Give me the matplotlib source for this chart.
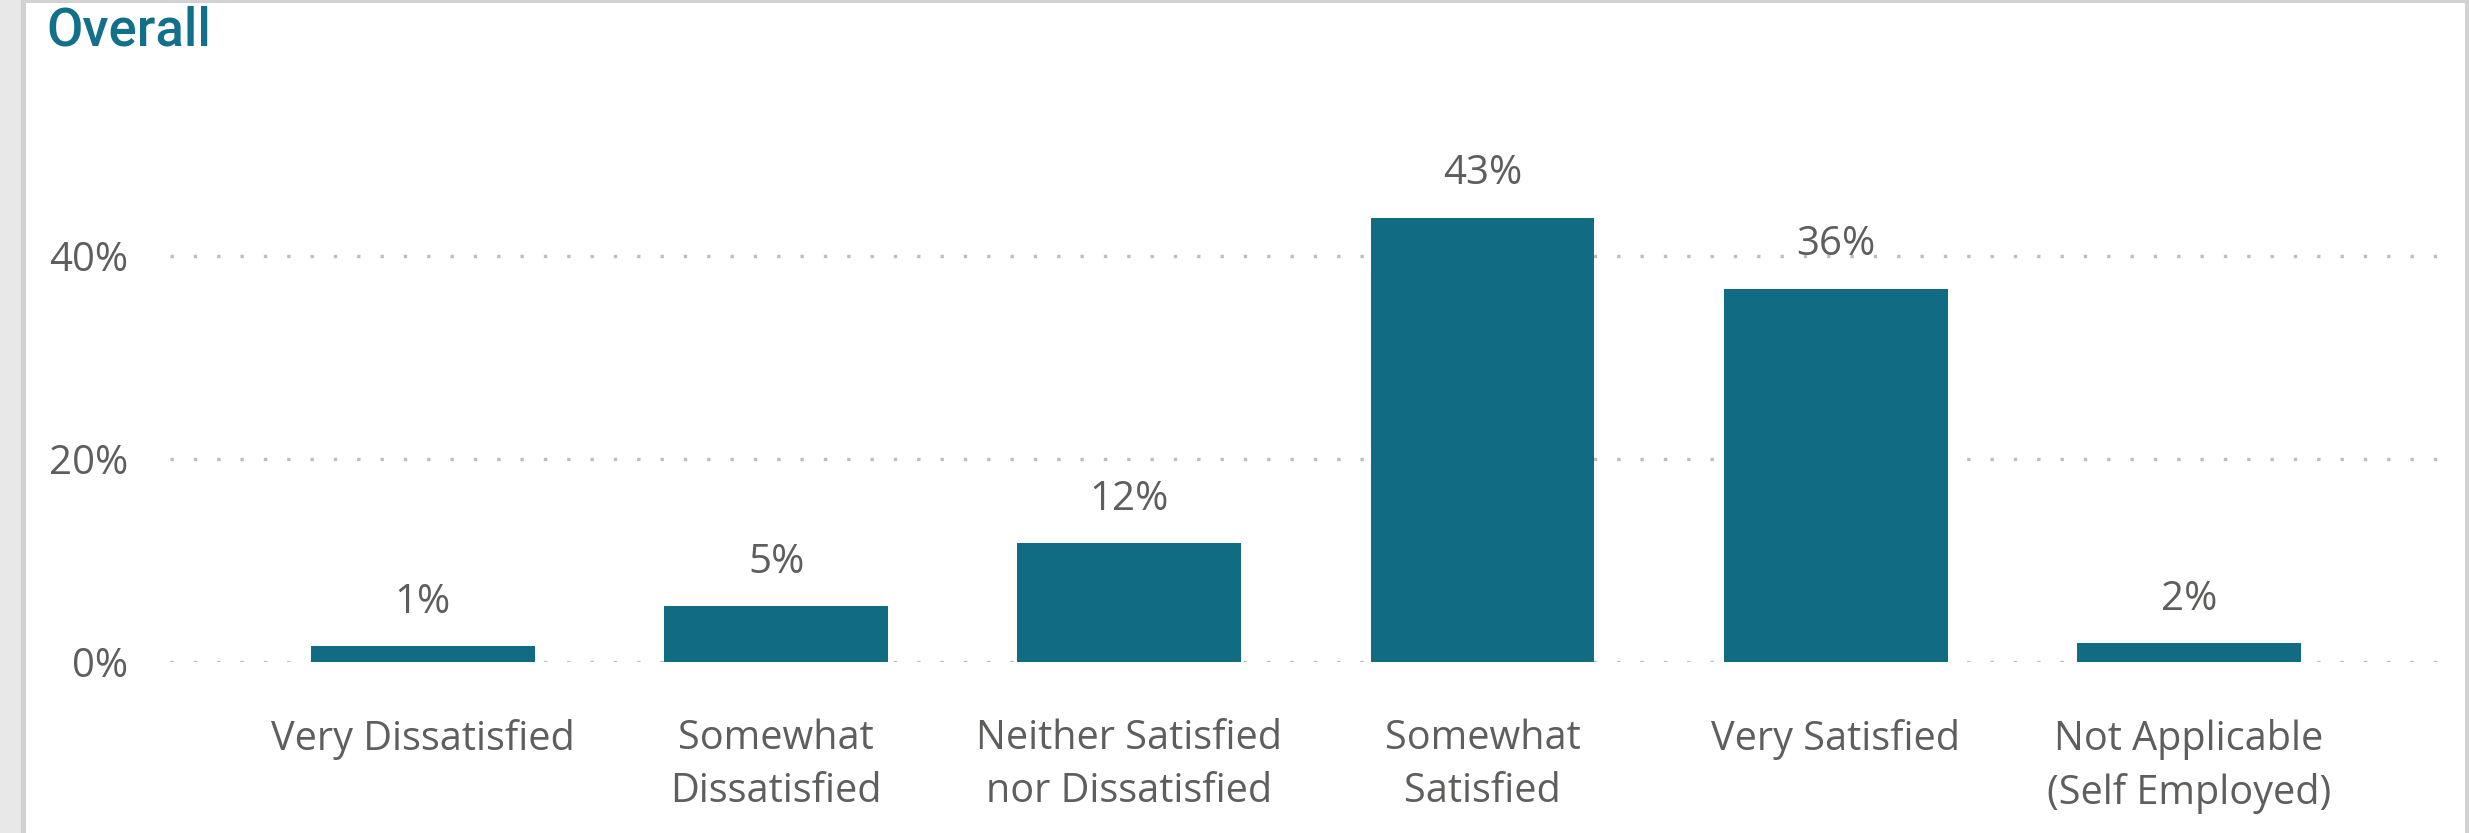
import matplotlib
matplotlib.use("Agg")
import matplotlib.pyplot as plt
from matplotlib.patches import Rectangle

# data
categories = ["Very Dissatisfied", "Somewhat\nDissatisfied", "Neither Satisfied\nnor Dissatisfied",
              "Somewhat\nSatisfied", "Very Satisfied", "Not Applicable\n(Self Employed)"]
shares = [1.5, 5.5, 11.7, 43.8, 36.8, 1.8]
share_labels = ["1%", "5%", "12%", "43%", "36%", "2%"]
y_ticks = [0, 20, 40]
y_tick_labels = ["0%", "20%", "40%"]

BAR = "#116B82"
TEXT = "#605E5C"
W, H = 2469, 833

fig = plt.figure(figsize=(W / 100, H / 100), dpi=100)
fig.patch.set_facecolor("white")

# panel frame (left grey strip, borders)
fig.add_artist(Rectangle((0, 0), 21 / W, 1, transform=fig.transFigure, color="#E8E8E8", lw=0))
fig.add_artist(Rectangle((21 / W, 0), 5 / W, 1, transform=fig.transFigure, color="#D2D2D2", lw=0))
fig.add_artist(Rectangle((2465 / W, 0), 4 / W, 1, transform=fig.transFigure, color="#D2D2D2", lw=0))
fig.add_artist(Rectangle((21 / W, 1 - 3 / H), 1, 3 / H, transform=fig.transFigure, color="#D2D2D2", lw=0))

fig.text(46 / W, 1 - 6 / H, "Overall", family="Roboto", fontweight="medium", fontsize=38,
         color="#13708A", ha="left", va="top")

left, right = 170, 2452
y0, ymax, px_per = 661.7, 50, 10.14
ax = fig.add_axes([left / W, (H - y0) / H, (right - left) / W, ymax * px_per / H])
ax.set_facecolor("none")

x = list(range(len(categories)))
ax.bar(x, shares, width=0.634, color=BAR, zorder=3)
for xi, v, lab in zip(x, shares, share_labels):
    ax.annotate(lab, (xi, v), xytext=(0, 24), textcoords="offset points", ha="center",
                va="baseline", fontsize=29, color=TEXT, family="Open Sans", clip_on=False)

ax.set_xlim(-0.716, 5.745)
ax.set_ylim(0, ymax)
ax.set_yticks(y_ticks)
ax.set_yticklabels(y_tick_labels, family="Open Sans", fontsize=29, color=TEXT)
ax.set_xticks(x)
ax.set_xticklabels(categories, family="Open Sans", fontsize=28.5, color=TEXT, linespacing=1.42)
ax.tick_params(axis="x", length=0, pad=41)
ax.tick_params(axis="y", length=0, pad=30)
for s in ax.spines.values():
    s.set_visible(False)

for t in y_ticks:
    ax.axhline(t, color="#BDBDBD", lw=2.4, linestyle=(0, (1, 6)), dash_capstyle="butt", zorder=1)

fig.savefig("out.png", dpi=100)
